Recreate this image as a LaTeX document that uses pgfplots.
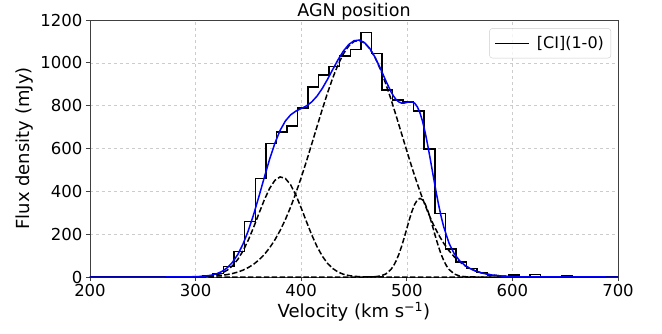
\documentclass[border=0pt]{standalone}
\usepackage{fontspec}
\setmainfont{DejaVu Sans}
\usepackage{pgfplots}
\pgfplotsset{compat=1.18}
\begin{document}
\begin{tikzpicture}
\begin{axis}[
  name=ax,
  at={(0pt,0pt)}, anchor=south west,
  scale only axis, width=528pt, height=257pt,
  xmin=200, xmax=700, ymin=0, ymax=1200,
  xtick={200,300,...,700}, ytick={0,200,...,1200},
  tick align=outside, tick pos=left,
  major tick length=4pt,
  grid=major, grid style={dashed, gray!40, line width=0.5pt},
  axis line style={black!75, line width=0.8pt},
  tick style={black!75, line width=0.8pt},
  /pgf/number format/assume math mode=true,
  /pgf/number format/set thousands separator={},
  ticklabel style={font=\fontsize{16.5}{19}\selectfont},
  xlabel={Velocity (km s\textsuperscript{−1})},
  ylabel={Flux density (mJy)},
  label style={font=\fontsize{18}{21}\selectfont},
  xlabel style={yshift=1.5pt},
  title={AGN position},
  title style={at={(0.5,1)}, anchor=base, yshift=-2.5pt, inner sep=0pt,
    font=\fontsize{17.5}{20}\selectfont},
  legend style={at={(0.987,0.968)}, anchor=north east, draw=black!20, rounded corners=3pt,
    font=\fontsize{16}{19}\selectfont, fill=white, fill opacity=0.8, text opacity=1,
    inner xsep=5pt, inner ysep=6pt, column sep=5pt},
  legend cell align=left,
  legend image code/.code={\draw[#1] (0pt,0pt) -- (34pt,0pt);},
]
\addplot[const plot mark left, black, line width=1.5pt] coordinates {
(200,0) (306.5,5) (316.5,17) (326.5,48) (336.5,120) (346.5,260) (356.5,460)
(366.5,624) (376.5,678) (386.5,706) (396.5,788) (406.5,888) (416.5,943)
(426.5,982) (436.5,1032) (446.5,1063) (456.5,1142) (466.5,1044) (476.5,873)
(486.5,826) (496.5,818) (506.5,776) (516.5,598) (526.5,297) (536.5,131)
(546.5,70) (556.5,40) (566.5,20) (576.5,8) (586.5,3) (596.5,9) (606.5,2)
(616.5,12) (626.5,3) (636.5,0) (646.5,5) (656.5,0) (700,0)};
\addlegendentry{[CI](1-0)}
\addplot[black, dashed, dash pattern=on 5.5pt off 2.4pt, line width=1.5pt] coordinates {
(200,0) (280,0) (290,0.1) (300,0.5) (305,1.2) (310,2.6) (315,5.2) (320,10.0)
(325,18.3) (330,31.9) (335,52.6) (340,82.4) (345,122.6) (350,173.4) (355,232.8)
(360,296.8) (365,359.2) (370,413.0) (375,450.9) (380,467.5) (385,460.3)
(390,430.4) (395,382.2) (400,322.3) (405,258.2) (410,196.3) (415,141.8)
(420,97.2) (425,63.3) (430,39.2) (435,23.0) (440,12.8) (445,6.8) (450,3.4)
(455,1.6) (460,0.7) (470,0.1) (480,0) (700,0)};
\addplot[black, dashed, dash pattern=on 5.5pt off 2.4pt, line width=1.5pt] coordinates {
(200,0) (270,0) (280,0.1) (290,0.4) (300,0.95) (305,1.5) (310,2.3) (315,3.5)
(320,5.3) (325,7.8) (330,11.4) (335,16.4) (340,23.1) (345,32.3) (350,44.3)
(355,59.9) (360,79.8) (365,104.7) (370,135.5) (375,172.7) (380,216.8)
(385,268.2) (390,326.8) (395,392.5) (400,464.2) (405,541.0) (410,621.4)
(415,702.9) (420,783.6) (425,860.5) (430,931.1) (435,992.5) (440,1042.5)
(445,1078.7) (450,1099.7) (455,1104.7) (460,1093.3) (465,1066.0) (470,1024.0)
(475,969.2) (480,903.7) (485,830.3) (490,751.5) (495,670.2) (500,588.9)
(505,509.7) (510,434.7) (515,365.3) (520,302.4) (525,246.7) (530,198.2)
(535,157.0) (540,122.4) (545,94.1) (550,71.3) (555,53.2) (560,39.1)
(565,28.3) (570,20.2) (575,14.2) (580,9.8) (590,4.5) (600,1.9) (610,0.8)
(620,0.3) (630,0.1) (700,0)};
\addplot[black, dashed, dash pattern=on 5.5pt off 2.4pt, line width=1.5pt] coordinates {
(200,0) (460,0) (465,0.3) (470,1.4) (475,4.7) (480,13.9) (485,35.2)
(487.5,52.9) (490,76.4) (492.5,106.2) (495,142.0) (497.5,182.7) (500,226.1)
(502.5,269.2) (505,308.3) (507.5,339.6) (510,359.9) (512.5,367) (515,359.9)
(517.5,339.6) (520,308.3) (522.5,269.2) (525,226.1) (527.5,182.7) (530,142.0)
(532.5,106.2) (535,76.4) (537.5,52.9) (540,35.2) (545,13.9) (550,4.7)
(555,1.4) (560,0.3) (565,0) (700,0)};
\addplot[blue, line width=1.5pt] coordinates {
(200,0) (270,0) (280,0.1) (290,0.5) (300,1.5) (305,2.7) (310,4.9) (315,8.7)
(320,15.3) (325,26.1) (330,43.3) (335,69.0) (340,105.5) (345,154.9)
(350,217.7) (355,292.7) (360,376.6) (365,463.9) (370,548.5) (375,623.6)
(380,684.3) (385,728.5) (390,757.2) (395,774.7) (400,786.5) (405,799.2)
(410,817.7) (415,844.7) (420,880.8) (425,923.8) (430,970.3) (435,1015.5)
(440,1055.3) (445,1085.5) (450,1103.1) (455,1106.3) (460,1094.0) (465,1066.5)
(470,1025.5) (475,973.9) (480,917.6) (485,865.5) (487.5,844.3) (490,827.9)
(492.5,817.3) (495,812.2) (497.5,812.1) (500,815.0) (502.5,818.0) (505,818.0)
(507.5,811.2) (510,794.6) (512.5,766.3) (515,725.2) (517.5,672.7) (520,610.7)
(522.5,542.9) (525,472.8) (527.5,404.3) (530,340.2) (532.5,283.0) (535,233.4)
(540,157.6) (545,108.0) (550,76.0) (555,54.6) (560,39.4) (565,28.3) (570,20.2)
(575,14.2) (580,9.8) (590,4.5) (600,1.9) (610,0.8) (620,0.3) (630,0.1) (700,0)};
\end{axis}
\path (ax.south west) ++(-90pt,-56pt) rectangle ([shift={(44pt,20pt)}]ax.north east);
\end{tikzpicture}
\end{document}
